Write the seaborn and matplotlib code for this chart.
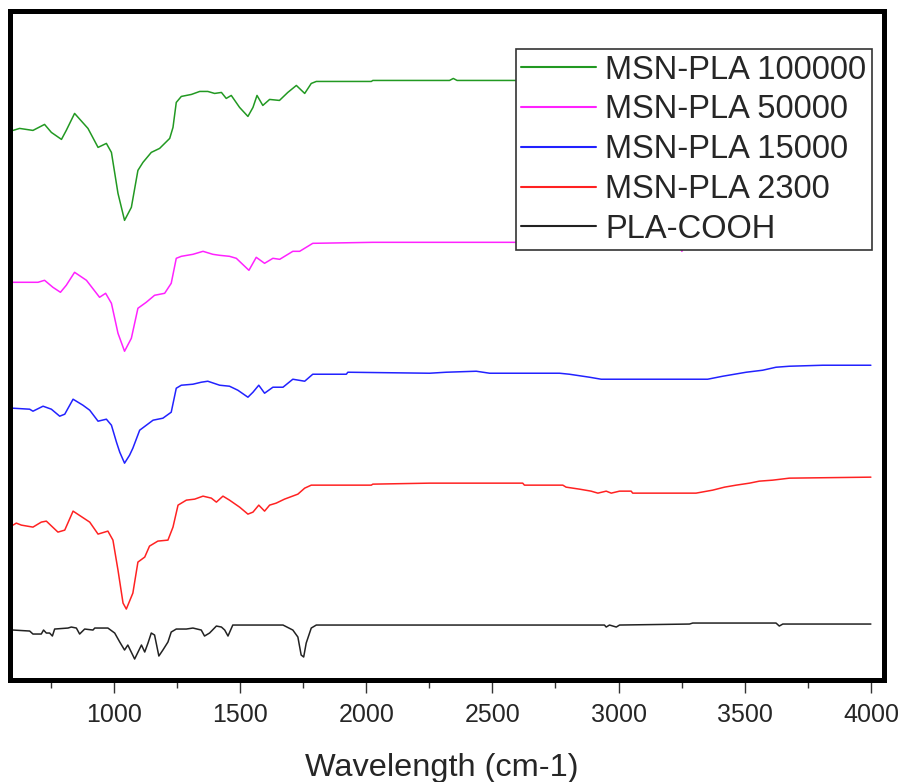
import numpy as np
import pandas as pd
import matplotlib
matplotlib.use("Agg")
import matplotlib.pyplot as plt
import seaborn as sns
from matplotlib.ticker import MultipleLocator

# FTIR spectra (wavenumber in cm-1, stacked transmittance in arbitrary units)
wn_100000 = [600, 626, 679, 725, 752, 792, 811, 844, 897, 937, 970, 990, 1016, 1042,
             1069, 1095, 1115, 1148, 1181, 1221, 1234, 1247, 1267, 1307, 1340, 1372,
             1399, 1426, 1445, 1465, 1498, 1531, 1551, 1567, 1590, 1617, 1656, 1689,
             1723, 1756, 1782, 1802, 2020, 2026, 2330, 2345, 2360, 3000, 4000]
t_100000 = [550, 552, 550, 556, 548, 541, 550, 567, 552, 533, 537, 528, 487, 460,
            473, 510, 518, 528, 532, 542, 553, 578, 584, 586, 589, 589,
            587, 588, 582, 585, 573, 564, 573, 585, 575, 581, 580, 588,
            595, 587, 597, 599, 599, 600, 600, 602, 600, 600, 601]

wn_50000 = [600, 699, 725, 758, 788, 811, 844, 891, 943, 967, 990, 1016, 1042, 1069,
            1095, 1128, 1161, 1201, 1227, 1247, 1267, 1313, 1353, 1392, 1419, 1458,
            1485, 1535, 1564, 1597, 1630, 1657, 1709, 1736, 1788, 2026, 2330, 3240,
            3251, 3262, 4000]
t_50000 = [398, 398, 400, 393, 388, 395, 408, 400, 383, 387, 377, 347, 329, 342,
           372, 378, 385, 387, 397, 422, 424, 426, 429, 426, 425, 424,
           422, 410, 423, 417, 422, 421, 429, 429, 437, 438, 438, 438,
           429, 438, 438]

wn_15000 = [600, 666, 679, 719, 752, 785, 805, 838, 877, 904, 937, 970, 990, 1010,
            1023, 1042, 1062, 1075, 1102, 1155, 1194, 1227, 1247, 1267, 1313, 1346,
            1372, 1419, 1458, 1491, 1531, 1551, 1574, 1597, 1630, 1670, 1709, 1756,
            1788, 1921, 1927, 2251, 2317, 2436, 2489, 2766, 2805, 2885, 2931, 2971,
            3043, 3353, 3413, 3506, 3571, 3624, 3677, 3809, 4000]
t_15000 = [272, 271, 269, 274, 271, 264, 266, 281, 275, 270, 259, 261, 255, 238,
           228, 217, 225, 232, 250, 260, 262, 268, 292, 295, 296, 298,
           299, 295, 294, 290, 283, 288, 295, 287, 293, 293, 301, 299,
           306, 306, 308, 307, 308, 309, 307, 307, 306, 303, 301, 301,
           301, 301, 304, 308, 310, 313, 314, 315, 315]

wn_2300 = [600, 613, 633, 679, 712, 732, 778, 805, 838, 904, 937, 976, 996, 1016,
           1036, 1049, 1075, 1095, 1122, 1141, 1174, 1214, 1234, 1254, 1287, 1320,
           1353, 1386, 1406, 1432, 1458, 1498, 1531, 1551, 1574, 1597, 1617, 1643,
           1676, 1729, 1756, 1782, 2020, 2026, 2251, 2620, 2627, 2779, 2792, 2845,
           2891, 2918, 2951, 2971, 3004, 3050, 3056, 3307, 3373, 3420, 3466, 3519,
           3558, 3611, 3677, 4000]
t_2300 = [155, 157, 155, 153, 158, 159, 148, 150, 169, 158, 146, 149, 140, 110,
          77, 71, 87, 118, 123, 134, 139, 140, 153, 175, 180, 181,
          184, 182, 178, 184, 180, 173, 166, 168, 175, 169, 175, 177,
          181, 186, 192, 195, 195, 196, 197, 197, 195, 195, 193, 191,
          189, 187, 189, 187, 189, 189, 187, 187, 190, 193, 195, 197,
          199, 200, 202, 203]

wn_cooh = [600, 666, 679, 712, 721, 732, 745, 756, 765, 818, 831, 851, 864, 884,
           917, 924, 976, 1003, 1023, 1042, 1055, 1082, 1109, 1122, 1135, 1148,
           1161, 1178, 1194, 1214, 1227, 1247, 1287, 1313, 1346, 1359, 1379, 1406,
           1426, 1439, 1452, 1471, 1670, 1709, 1729, 1742, 1752, 1762, 1782, 1802,
           2944, 2951, 2964, 2991, 3004, 3281, 3294, 3624, 3637, 3651, 4000]
t_cooh = [50, 49, 46, 46, 50, 47, 47, 44, 51, 52, 53, 52, 46, 51,
          50, 52, 52, 47, 38, 30, 35, 21, 35, 28, 37, 47,
          45, 24, 30, 38, 48, 51, 51, 52, 50, 44, 47, 54,
          53, 50, 44, 55, 55, 50, 43, 25, 23, 37, 52, 55,
          55, 53, 55, 53, 55, 56, 57, 57, 54, 56, 56]

labels = ["MSN-PLA 100000", "MSN-PLA 50000", "MSN-PLA 15000", "MSN-PLA 2300", "PLA-COOH"]
colors = ["#229922", "#ff22ff", "#2222ff", "#ff2222", "#222222"]
series = [(wn_100000, t_100000), (wn_50000, t_50000), (wn_15000, t_15000),
          (wn_2300, t_2300), (wn_cooh, t_cooh)]

sns.set_style("white")
plt.rcParams["font.family"] = ["Liberation Sans", "DejaVu Sans"]

fig = plt.figure(figsize=(9.03, 7.82), dpi=100)
ax = fig.add_axes([10.5 / 903, 102 / 782, 874 / 903, 669.5 / 782])

for (wn, t), lab, col in zip(series, labels, colors):
    df = pd.DataFrame({"wavenumber": wn, "T": t})
    sns.lineplot(data=df, x="wavenumber", y="T", ax=ax, color=col, label=lab,
                 linewidth=1.1, estimator=None, sort=False)

ax.set_xlim(590, 4054)
ax.set_ylim(0, 670)
ax.set_yticks([])
ax.set_ylabel("")
ax.xaxis.set_major_locator(MultipleLocator(500))
ax.xaxis.set_minor_locator(MultipleLocator(250))
ax.tick_params(axis="x", which="major", direction="out", length=9.4, width=1.0,
               color="#333333", labelsize=18, labelcolor="#262626", pad=7, bottom=True)
ax.tick_params(axis="x", which="minor", direction="out", length=5.8, width=1.0,
               color="#333333", bottom=True)
ax.set_xticks([1000, 1500, 2000, 2500, 3000, 3500, 4000])
ax.set_xlabel("Wavelength (cm-1)", fontsize=23.4, color="#262626", labelpad=19)
ax.xaxis.label.set_x(0.493)

for sp in ax.spines.values():
    sp.set_visible(True)
    sp.set_color("black")
    sp.set_linewidth(3.6)

leg = ax.legend(loc="upper right", bbox_to_anchor=(0.9857, 0.9425), borderaxespad=0,
                fontsize=23.5, frameon=True, framealpha=1, fancybox=False,
                edgecolor="#333333", handlelength=2.27, handletextpad=0.3,
                labelspacing=0.27, borderpad=0.17)
leg.get_frame().set_linewidth(1.2)
for h in leg.get_lines():
    h.set_linewidth(1.5)

fig.savefig("out.png", dpi=100, facecolor="white")
